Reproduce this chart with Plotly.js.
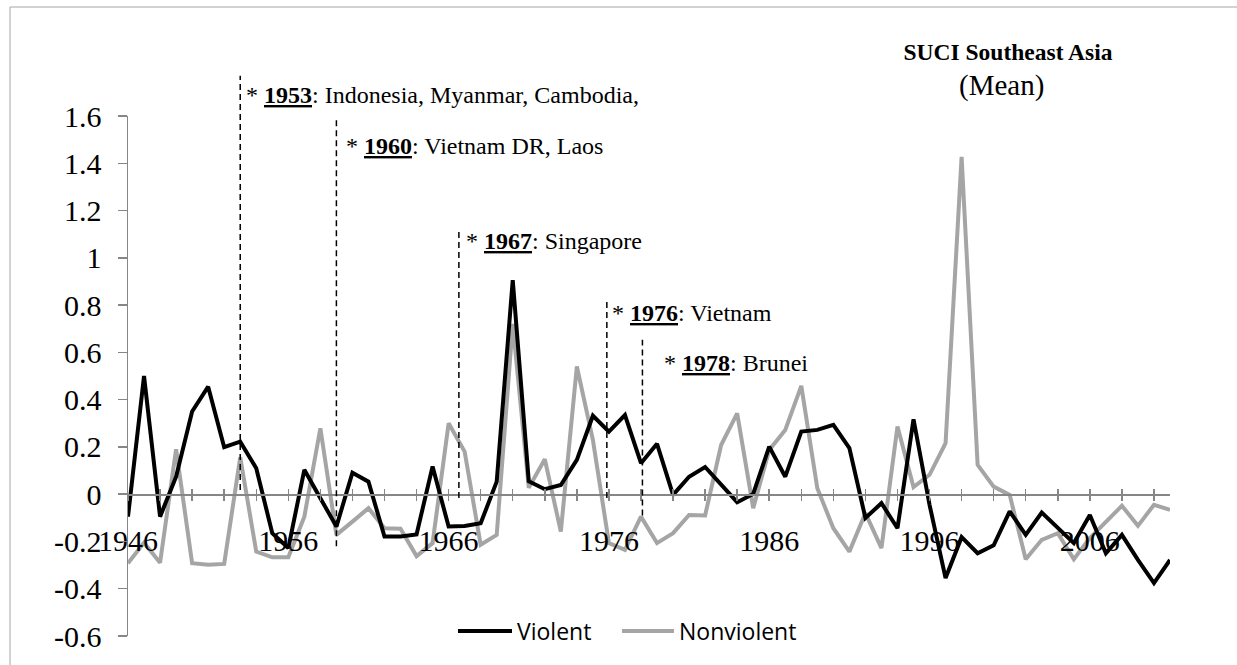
<!DOCTYPE html>
<html>
<head>
<meta charset="utf-8">
<script src="https://cdn.plot.ly/plotly-3.0.1.min.js"></script>
<style>
  html, body { margin: 0; padding: 0; background: #ffffff; }
  #chart { width: 1237px; height: 665px; }
</style>
</head>
<body>
<div id="chart"></div>
<script>
// ---- data ----
const years = [
  1946,1947,1948,1949,1950,1951,1952,1953,1954,1955,
  1956,1957,1958,1959,1960,1961,1962,1963,1964,1965,
  1966,1967,1968,1969,1970,1971,1972,1973,1974,1975,
  1976,1977,1978,1979,1980,1981,1982,1983,1984,1985,
  1986,1987,1988,1989,1990,1991,1992,1993,1994,1995,
  1996,1997,1998,1999,2000,2001,2002,2003,2004,2005,
  2006,2007,2008,2009,2010,2011
];
const violent = [
  -0.095, 0.500,-0.095, 0.074, 0.350, 0.455, 0.199, 0.222, 0.110,-0.165,
  -0.228, 0.103,-0.017,-0.137, 0.091, 0.053,-0.179,-0.179,-0.170, 0.117,
  -0.137,-0.135,-0.123, 0.053, 0.906, 0.055, 0.021, 0.039, 0.145, 0.332,
   0.265, 0.335, 0.131, 0.213,-0.003, 0.074, 0.115, 0.040,-0.034, 0.001,
   0.201, 0.074, 0.265, 0.272, 0.293, 0.195,-0.101,-0.038,-0.144, 0.317,
  -0.045,-0.355,-0.182,-0.250,-0.216,-0.073,-0.172,-0.078,-0.144,-0.207,
  -0.088,-0.250,-0.172,-0.278,-0.376,-0.278
];
const nonviolent = [
  -0.292,-0.205,-0.290, 0.190,-0.292,-0.299,-0.295, 0.156,-0.243,-0.267,
  -0.267,-0.095, 0.279,-0.172,-0.116,-0.059,-0.144,-0.146,-0.262,-0.207,
   0.300, 0.180,-0.214,-0.172, 0.720, 0.027, 0.148,-0.158, 0.540, 0.230,
  -0.207,-0.236,-0.095,-0.207,-0.165,-0.088,-0.090, 0.208, 0.342,-0.059,
   0.187, 0.272, 0.458, 0.025,-0.144,-0.243,-0.080,-0.228, 0.286, 0.030,
   0.082, 0.216, 1.427, 0.124, 0.032,-0.003,-0.275,-0.193,-0.165,-0.275,
  -0.186,-0.120,-0.049,-0.134,-0.045,-0.066
];
const yTickVals = [1.6, 1.4, 1.2, 1, 0.8, 0.6, 0.4, 0.2, 0, -0.2, -0.4, -0.6];
const yTickText = ["1.6","1.4","1.2","1","0.8","0.6","0.4","0.2","0","-0.2","-0.4","-0.6"];
const xLabelYears = [1946, 1956, 1966, 1976, 1986, 1996, 2006];

// independence markers
const markYears  = [1953, 1959.0, 1966.64, 1975.87, 1978.09];
const markBold   = ["1953", "1960", "1967", "1976", "1978"];
const markText   = ["Indonesia, Myanmar, Cambodia,", "Vietnam DR, Laos", "Singapore", "Vietnam", "Brunei"];
const markTop    = [1.77, 1.583, 1.118, 0.822, 0.653];
const markBottom = [0.018, -0.22, -0.016, -0.016, -0.09];
const markTextY  = [1.69, 1.472, 1.070, 0.766, 0.555];
const markShift  = [4, 8, 5, 3, 20];

// ---- build ----
const serif = "Liberation Serif, Times New Roman, serif";
const axisGray = "#868686";
const violentColor = "#000000";
const nonviolentColor = "#a5a5a5";
const yMin = -0.6, yMax = 1.6;
const toPaperY = v => (v - yMin) / (yMax - yMin);
const xTickVals = years.filter(y => (y - years[0]) % 2 === 0);
const xTickText = xTickVals.map(y => xLabelYears.includes(y) ? String(y) : "");
const zeroPos = toPaperY(0);

// plot-area pixel geometry (for legend decoration in paper coords)
const plotL = 128, plotW = 1042, plotT = 116, plotH = 520;
const pxX = px => (px - plotL) / plotW;
const pxY = py => (plotT + plotH - py) / plotH;

const traces = [
  { x: years, y: nonviolent, name: "Nonviolent", type: "scatter", mode: "lines",
    line: { color: nonviolentColor, width: 4 }, hoverinfo: "x+y" },
  { x: years, y: violent, name: "Violent", type: "scatter", mode: "lines",
    line: { color: violentColor, width: 4 }, hoverinfo: "x+y" },
  { x: years, y: violent, xaxis: "x2", yaxis: "y", type: "scatter", mode: "lines",
    line: { width: 0 }, opacity: 0, showlegend: false, hoverinfo: "skip" }
];

const shapes = markYears.map((yr, i) => ({
  type: "line", xref: "x", yref: "paper",
  x0: yr, x1: yr, y0: toPaperY(markBottom[i]), y1: toPaperY(markTop[i]),
  line: { color: "#000000", width: 1.5, dash: "6px,4px" }
}));
// outer chart frame (left and top edges)
shapes.push({ type: "line", xref: "paper", yref: "paper", x0: pxX(10), x1: pxX(10), y0: -0.2, y1: pxY(7),
  line: { color: "#a6a6a6", width: 1 } });
shapes.push({ type: "line", xref: "paper", yref: "paper", x0: pxX(10), x1: 1.07, y0: pxY(7), y1: pxY(7),
  line: { color: "#a6a6a6", width: 1 } });
// longer legend line keys (Excel draws longer legend samples)
shapes.push({ type: "line", xref: "paper", yref: "paper", x0: pxX(458), x1: pxX(490), y0: pxY(631), y1: pxY(631),
  line: { color: violentColor, width: 4 } });
shapes.push({ type: "line", xref: "paper", yref: "paper", x0: pxX(622), x1: pxX(652), y0: pxY(631), y1: pxY(631),
  line: { color: nonviolentColor, width: 4 } });

const annotations = markYears.map((yr, i) => ({
  xref: "x", yref: "paper", x: yr, y: toPaperY(markTextY[i]), xanchor: "left", yanchor: "middle",
  xshift: markShift[i], showarrow: false,
  text: "* <b><u>" + markBold[i] + "</u></b>: " + markText[i],
  font: { family: serif, size: 24, color: "#000000" }
}));
annotations.push({
  xref: "paper", yref: "paper", x: pxX(1001), y: pxY(85),
  xanchor: "center", yanchor: "middle", showarrow: false,
  text: "(Mean)", font: { family: serif, size: 29, color: "#000000" }
});

const layout = {
  width: 1237, height: 665,
  margin: { l: plotL, r: 1237 - plotL - plotW, t: plotT, b: 665 - plotT - plotH, pad: 0 },
  paper_bgcolor: "#ffffff", plot_bgcolor: "#ffffff",
  showlegend: true,
  title: {
    text: "<b>SUCI Southeast Asia</b>",
    x: 1008 / 1237, xanchor: "center", xref: "container",
    y: 1 - 52 / 665, yanchor: "middle", yref: "container",
    font: { family: serif, size: 23.5, color: "#000000" }
  },
  xaxis: {
    range: [years[0], years[years.length - 1]],
    anchor: "free", position: zeroPos,
    tickmode: "array", tickvals: xTickVals, ticktext: xTickText,
    ticks: "outside", ticklen: 5, tickwidth: 1.5, tickcolor: axisGray,
    showline: true, linecolor: axisGray, linewidth: 1.5,
    showgrid: false, zeroline: false,
    ticklabelstandoff: 14,
    tickfont: { family: serif, size: 30, color: "#000000" },
    fixedrange: true
  },
  xaxis2: {
    overlaying: "x", matches: "x", anchor: "free", position: zeroPos, side: "bottom",
    tickmode: "array", tickvals: xTickVals,
    ticks: "inside", ticklen: 5, tickwidth: 1.5, tickcolor: axisGray,
    showticklabels: false, showline: false, showgrid: false, zeroline: false
  },
  yaxis: {
    range: [yMin, yMax],
    tickmode: "array", tickvals: yTickVals, ticktext: yTickText,
    ticks: "outside", ticklen: 9, tickwidth: 1.5, tickcolor: axisGray,
    showline: true, linecolor: axisGray, linewidth: 1.5,
    showgrid: false, zeroline: false,
    ticklabelstandoff: 10,
    tickfont: { family: serif, size: 30, color: "#000000" },
    fixedrange: true
  },
  legend: {
    orientation: "h", traceorder: "reversed",
    x: pxX(477), xanchor: "left",
    y: pxY(631), yanchor: "middle",
    entrywidth: 117, entrywidthmode: "pixels",
    bgcolor: "rgba(0,0,0,0)",
    font: { family: "Open Sans, sans-serif", size: 23, color: "#000000" }
  },
  shapes: shapes,
  annotations: annotations
};

Plotly.newPlot("chart", traces, layout, { displayModeBar: false, staticPlot: true });
</script>
</body>
</html>
